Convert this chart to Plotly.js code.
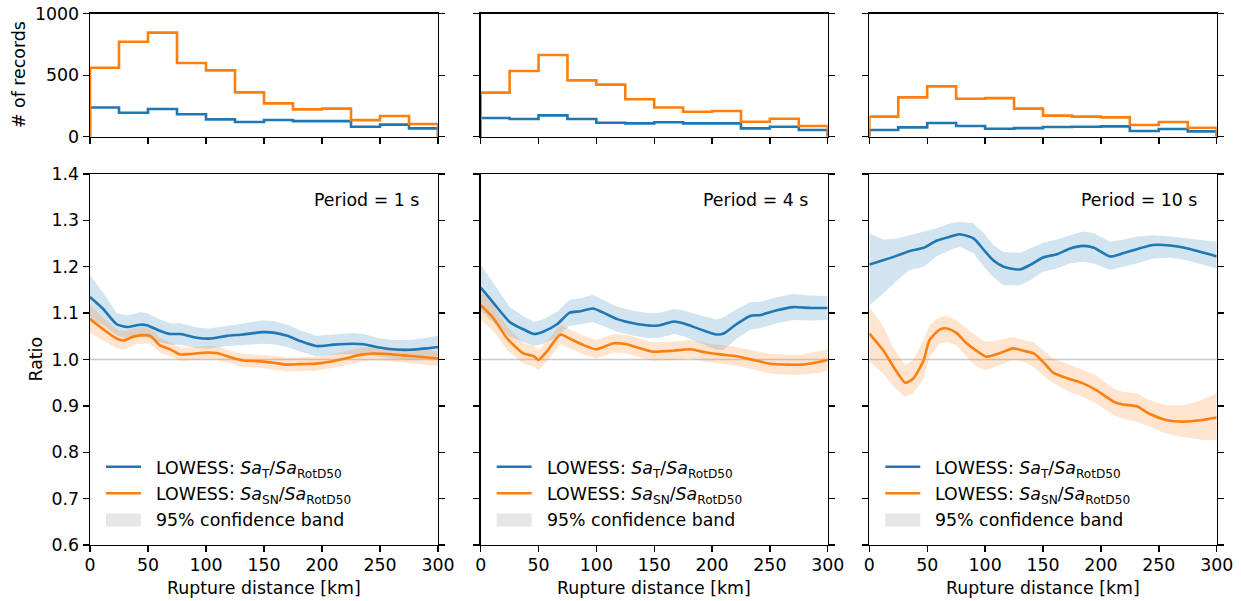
<!DOCTYPE html>
<html>
<head>
<meta charset="utf-8">
<script src="https://cdn.plot.ly/plotly-3.0.1.min.js"></script>
<style>html,body{margin:0;padding:0;background:#fff;}#chart{width:1241px;height:601px;}</style>
</head>
<body>
<div id="chart"></div>
<script>
// ---------------- DATA ----------------
const periods = ["Period = 1 s", "Period = 4 s", "Period = 10 s"];
const binEdges = [0, 25, 50, 75, 100, 125, 150, 175, 200, 225, 250, 275, 300];
const xTicks = [0, 50, 100, 150, 200, 250, 300];
const countTicks = [0, 500, 1000];
const ratioTicks = [0.6, 0.7, 0.8, 0.9, 1.0, 1.1, 1.2, 1.3, 1.4];

// histogram counts (# of records per 25 km bin)
const h1Orange = [561, 772, 846, 599, 539, 360, 271, 222, 228, 135, 168, 103];
const h1Blue   = [238, 195, 225, 182, 141, 119, 136, 127, 127, 81, 98, 68];
const h2Orange = [358, 534, 664, 458, 423, 304, 238, 203, 209, 122, 146, 87];
const h2Blue   = [152, 144, 173, 144, 114, 108, 117, 108, 108, 68, 81, 54];
const h3Orange = [163, 320, 409, 309, 314, 228, 171, 163, 157, 95, 119, 73];
const h3Blue   = [54, 76, 111, 87, 65, 70, 79, 81, 84, 46, 62, 43];

// Period = 1 s
const p1BlueX   = [0,11,23,32,43,49,60,69,78,92,103,118,132,149,158,170,181,195,210,227,236,247,261,276,290,300];
const p1BlueY   = [1.135,1.110,1.076,1.070,1.075,1.074,1.062,1.055,1.055,1.047,1.045,1.051,1.054,1.059,1.058,1.051,1.040,1.029,1.032,1.034,1.033,1.027,1.022,1.021,1.024,1.027];
const p1BlueErr = [0.047,0.035,0.024,0.025,0.027,0.026,0.025,0.023,0.023,0.022,0.022,0.022,0.023,0.025,0.025,0.024,0.023,0.022,0.022,0.023,0.022,0.020,0.020,0.021,0.023,0.025];
const p1OrangeX   = [0,11,23,29,37,43,52,60,69,78,86,101,109,121,132,147,158,170,181,195,204,218,233,244,256,270,284,300];
const p1OrangeY   = [1.087,1.066,1.045,1.041,1.049,1.052,1.051,1.031,1.022,1.011,1.012,1.015,1.014,1.005,0.998,0.996,0.993,0.989,0.990,0.991,0.994,1.001,1.010,1.013,1.012,1.009,1.006,1.002];
const p1OrangeErr = [0.030,0.025,0.020,0.020,0.018,0.018,0.017,0.016,0.015,0.015,0.014,0.014,0.014,0.014,0.014,0.014,0.015,0.015,0.015,0.015,0.015,0.015,0.015,0.015,0.015,0.015,0.016,0.016];

// Period = 4 s
const p2BlueX   = [0,11,25,37,46,54,66,77,86,97,106,118,132,146,155,167,175,190,204,210,221,233,242,256,270,285,300];
const p2BlueY   = [1.155,1.122,1.081,1.065,1.055,1.060,1.076,1.101,1.104,1.110,1.101,1.087,1.078,1.073,1.074,1.082,1.078,1.065,1.054,1.056,1.076,1.094,1.096,1.106,1.113,1.111,1.111];
const p2BlueErr = [0.050,0.042,0.032,0.028,0.026,0.026,0.027,0.028,0.028,0.029,0.028,0.027,0.027,0.027,0.027,0.027,0.028,0.030,0.033,0.035,0.032,0.030,0.028,0.028,0.028,0.027,0.026];
const p2OrangeX   = [0,11,23,37,46,50,57,69,77,89,100,115,126,138,149,167,181,195,207,221,236,250,265,279,291,300];
const p2OrangeY   = [1.117,1.089,1.045,1.013,1.007,0.999,1.017,1.054,1.045,1.031,1.022,1.035,1.033,1.024,1.017,1.019,1.022,1.015,1.011,1.007,0.999,0.991,0.989,0.989,0.994,0.999];
const p2OrangeErr = [0.030,0.028,0.025,0.022,0.022,0.022,0.022,0.021,0.020,0.020,0.020,0.020,0.020,0.020,0.020,0.020,0.020,0.020,0.020,0.020,0.020,0.021,0.022,0.022,0.023,0.023];

// Period = 10 s
const p3BlueX  = [0,12,24,35,47,58,70,78,90,99,107,116,130,139,150,162,173,185,194,208,219,231,245,260,274,289,300];
const p3BlueY  = [1.205,1.214,1.224,1.234,1.241,1.256,1.265,1.270,1.261,1.236,1.214,1.200,1.194,1.204,1.220,1.227,1.239,1.245,1.241,1.222,1.229,1.238,1.247,1.246,1.240,1.230,1.222];
const p3BlueHi = [1.272,1.259,1.261,1.268,1.276,1.283,1.294,1.297,1.294,1.272,1.247,1.232,1.230,1.240,1.252,1.259,1.268,1.276,1.272,1.254,1.258,1.265,1.268,1.265,1.261,1.258,1.254];
const p3BlueLo = [1.117,1.142,1.171,1.193,1.200,1.222,1.236,1.243,1.229,1.200,1.178,1.160,1.160,1.171,1.189,1.196,1.207,1.211,1.207,1.193,1.200,1.207,1.218,1.220,1.214,1.204,1.196];
const p3OrangeX  = [0,12,21,31,38,47,52,61,67,75,84,93,101,113,124,133,142,150,159,173,185,196,211,219,231,242,257,271,286,300];
const p3OrangeY  = [1.056,1.020,0.984,0.950,0.959,0.999,1.042,1.065,1.067,1.058,1.035,1.018,1.006,1.014,1.024,1.019,1.013,0.995,0.971,0.958,0.948,0.934,0.909,0.903,0.899,0.883,0.869,0.866,0.869,0.875];
const p3OrangeHi = [1.114,1.071,1.024,0.988,0.999,1.042,1.074,1.092,1.094,1.085,1.067,1.049,1.038,1.042,1.049,1.042,1.038,1.020,1.002,0.988,0.977,0.966,0.937,0.930,0.927,0.912,0.901,0.901,0.912,0.927];
const p3OrangeLo = [0.995,0.970,0.941,0.919,0.927,0.959,1.006,1.035,1.038,1.031,1.006,0.984,0.977,0.988,0.999,0.995,0.984,0.966,0.948,0.930,0.919,0.905,0.880,0.873,0.866,0.855,0.840,0.833,0.827,0.826];

const legendLabels = [
  "LOWESS: <i>Sa</i><sub>T</sub>/<i>Sa</i><sub>RotD50</sub>",
  "LOWESS: <i>Sa</i><sub>SN</sub>/<i>Sa</i><sub>RotD50</sub>",
  "95% confidence band"
];

// ---------------- STYLE / LAYOUT ----------------
const W = 1241, H = 601;
const BLUE = '#1f77b4', ORANGE = '#ff7f0e';
const BLUE_BAND = 'rgba(31,119,180,0.2)', ORANGE_BAND = 'rgba(255,127,14,0.2)';
const FS = 17.36;
const FONT = 'DejaVu Sans, sans-serif';
const panelX = [[90, 438], [480.7, 827.7], [869.3, 1216.7]];
const topY = [13.7, 136.7], botY = [174, 545];
const fx = p => p / W;
const fy = p => 1 - p / H;

function sub(arrA, arrB, sign) { return arrA.map((v, i) => v + sign * arrB[i]); }

const hists = [[h1Blue, h1Orange], [h2Blue, h2Orange], [h3Blue, h3Orange]];
const curves = [
  {bx: p1BlueX, by: p1BlueY, bhi: sub(p1BlueY, p1BlueErr, 1), blo: sub(p1BlueY, p1BlueErr, -1),
   ox: p1OrangeX, oy: p1OrangeY, ohi: sub(p1OrangeY, p1OrangeErr, 1), olo: sub(p1OrangeY, p1OrangeErr, -1)},
  {bx: p2BlueX, by: p2BlueY, bhi: sub(p2BlueY, p2BlueErr, 1), blo: sub(p2BlueY, p2BlueErr, -1),
   ox: p2OrangeX, oy: p2OrangeY, ohi: sub(p2OrangeY, p2OrangeErr, 1), olo: sub(p2OrangeY, p2OrangeErr, -1)},
  {bx: p3BlueX, by: p3BlueY, bhi: p3BlueHi, blo: p3BlueLo,
   ox: p3OrangeX, oy: p3OrangeY, ohi: p3OrangeHi, olo: p3OrangeLo}
];

function stepTrace(counts, color, xa, ya) {
  const x = [binEdges[0]].concat(binEdges.slice(0, counts.length)).concat([binEdges[binEdges.length - 1]]);
  const y = [0].concat(counts).concat([0]);
  return {type: 'scatter', mode: 'lines', x: x, y: y, xaxis: xa, yaxis: ya,
    line: {color: color, width: 2.6, shape: 'hv'}, hoverinfo: 'skip'};
}
function bandTrace(xs, hi, lo, color, xa, ya) {
  return {type: 'scatter', mode: 'lines', x: xs.concat(xs.slice().reverse()),
    y: hi.concat(lo.slice().reverse()), fill: 'toself', fillcolor: color,
    line: {width: 0, color: color}, xaxis: xa, yaxis: ya, hoverinfo: 'skip'};
}
function lineTrace(xs, ys, color, xa, ya) {
  return {type: 'scatter', mode: 'lines', x: xs, y: ys, xaxis: xa, yaxis: ya,
    line: {color: color, width: 2.6, shape: 'spline', smoothing: 0.6}, hoverinfo: 'skip'};
}

const traces = [];
const layout = {
  width: W, height: H, margin: {l: 0, r: 0, t: 0, b: 0},
  paper_bgcolor: 'white', plot_bgcolor: 'white', showlegend: false,
  font: {family: FONT, size: FS, color: 'black'},
  shapes: [], annotations: []
};

function axisCommon() {
  return {showline: true, linecolor: 'black', linewidth: 1.4, ticks: 'outside', ticklen: 6,
    tickwidth: 1.4, tickcolor: 'black', showgrid: false, zeroline: false,
    tickfont: {family: FONT, size: FS, color: 'black'}, fixedrange: true};
}

for (let p = 0; p < 3; p++) {
  const [L, R] = panelX[p];
  const tN = p + 1, bN = p + 4;
  const tx = 'x' + tN, ty = 'y' + tN, bx = 'x' + bN, by = 'y' + bN;
  // top histogram axes
  layout['xaxis' + tN] = Object.assign(axisCommon(), {domain: [fx(L), fx(R)], range: [0, 300], anchor: ty,
    tickvals: xTicks, showticklabels: false, mirror: true});
  layout['yaxis' + tN] = Object.assign(axisCommon(), {domain: [fy(topY[1]), fy(topY[0])], range: [0, 1000], anchor: tx,
    tickvals: countTicks, ticktext: countTicks.map(String), showticklabels: p === 0, mirror: 'ticks'});
  // bottom ratio axes
  layout['xaxis' + bN] = Object.assign(axisCommon(), {domain: [fx(L), fx(R)], range: [0, 300], anchor: by,
    tickvals: xTicks, ticktext: xTicks.map(String), mirror: true, ticklabelstandoff: -2});
  layout['yaxis' + bN] = Object.assign(axisCommon(), {domain: [fy(botY[1]), fy(botY[0])], range: [0.6, 1.4], anchor: bx,
    tickvals: ratioTicks, ticktext: ratioTicks.map(v => v.toFixed(1)), showticklabels: p === 0, mirror: 'ticks'});

  // histogram traces
  traces.push(stepTrace(hists[p][0], BLUE, tx, ty));
  traces.push(stepTrace(hists[p][1], ORANGE, tx, ty));

  // ratio traces
  const c = curves[p];
  traces.push(bandTrace(c.bx, c.bhi, c.blo, BLUE_BAND, bx, by));
  traces.push(bandTrace(c.ox, c.ohi, c.olo, ORANGE_BAND, bx, by));
  traces.push(lineTrace(c.bx, c.by, BLUE, bx, by));
  traces.push(lineTrace(c.ox, c.oy, ORANGE, bx, by));

  // reference line at ratio 1.0
  layout.shapes.push({type: 'line', xref: 'paper', yref: by, x0: fx(L), x1: fx(R), y0: 1, y1: 1,
    layer: 'below', line: {color: '#cccccc', width: 1.3}});

  // period label
  layout.annotations.push({xref: 'paper', yref: 'paper', x: fx(R - 17.5), y: fy(200), xanchor: 'right', yanchor: 'middle',
    text: periods[p], showarrow: false, font: {family: FONT, size: FS, color: 'black'}});

  // x axis title
  layout.annotations.push({xref: 'paper', yref: 'paper', x: fx((L + R) / 2), y: fy(588), xanchor: 'center', yanchor: 'middle',
    text: 'Rupture distance [km]', showarrow: false, font: {family: FONT, size: FS, color: 'black'}});

  // manual legend
  const rows = [466.7, 493.3, 520];
  const hx0 = L + 16, hx1 = L + 51, tx0 = L + 64;
  layout.shapes.push({type: 'line', xref: 'paper', yref: 'paper', x0: fx(hx0), x1: fx(hx1), y0: fy(rows[0]), y1: fy(rows[0]),
    layer: 'above', line: {color: BLUE, width: 2.6}});
  layout.shapes.push({type: 'line', xref: 'paper', yref: 'paper', x0: fx(hx0), x1: fx(hx1), y0: fy(rows[1]), y1: fy(rows[1]),
    layer: 'above', line: {color: ORANGE, width: 2.6}});
  layout.shapes.push({type: 'rect', xref: 'paper', yref: 'paper', x0: fx(hx0), x1: fx(hx1), y0: fy(rows[2] + 6.5), y1: fy(rows[2] - 6.5),
    layer: 'above', line: {width: 0}, fillcolor: 'rgba(128,128,128,0.2)'});
  for (let r = 0; r < 3; r++) {
    const dy = r < 2 ? 2.5 : 0;
    layout.annotations.push({xref: 'paper', yref: 'paper', x: fx(tx0), y: fy(rows[r] + dy), xanchor: 'left', yanchor: 'middle',
      text: legendLabels[r], showarrow: false, font: {family: FONT, size: FS, color: 'black'}});
  }
}

// y-axis titles
layout.annotations.push({xref: 'paper', yref: 'paper', x: fx(19), y: fy(75), xanchor: 'center', yanchor: 'middle',
  text: '# of records', textangle: -90, showarrow: false, font: {family: FONT, size: FS, color: 'black'}});
layout.annotations.push({xref: 'paper', yref: 'paper', x: fx(35), y: fy(359.5), xanchor: 'center', yanchor: 'middle',
  text: 'Ratio', textangle: -90, showarrow: false, font: {family: FONT, size: FS, color: 'black'}});

Plotly.newPlot('chart', traces, layout, {staticPlot: true, displayModeBar: false});
</script>
</body>
</html>
